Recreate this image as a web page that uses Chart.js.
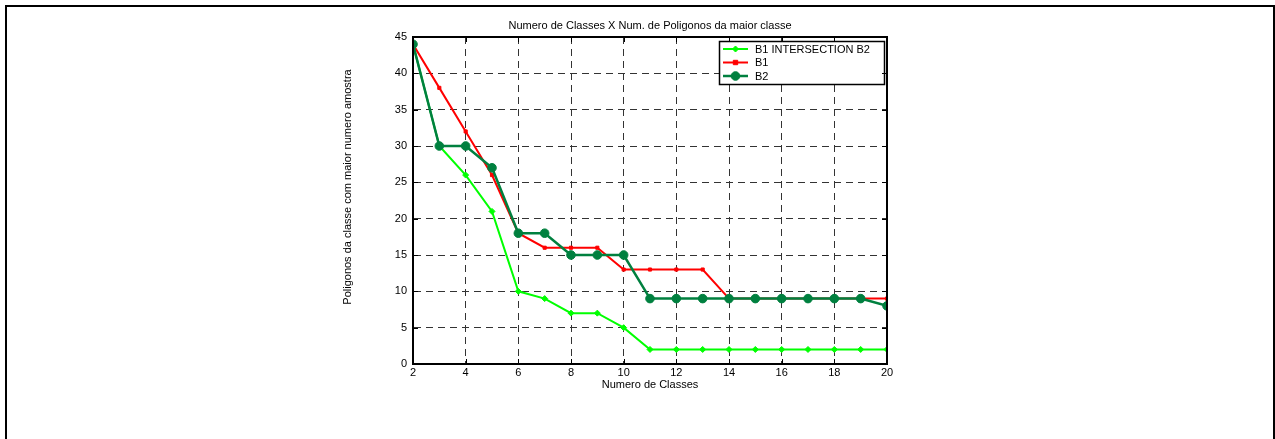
<!DOCTYPE html>
<html><head><meta charset="utf-8">
<script src="https://cdn.jsdelivr.net/npm/chart.js@4/dist/chart.umd.min.js"></script>
<style>
html,body{margin:0;padding:0;background:#fff;overflow:hidden;}
#wrap{position:relative;width:1275px;height:439px;overflow:hidden;}
#frame{position:absolute;left:5px;top:5px;width:1266px;height:480px;border:2px solid #000;pointer-events:none;}
canvas{position:absolute;left:0;top:0;}
</style></head><body>
<div id="wrap"><canvas id="c" width="1275" height="439"></canvas><div id="frame"></div></div>
<script>
const classes = [2,3,4,5,6,7,8,9,10,11,12,13,14,15,16,17,18,19,20];
const b1IntersectionB2 = [44,30,26,21,10,9,7,7,5,2,2,2,2,2,2,2,2,2,2];
const b1 = [44,38,32,26,18,16,16,16,13,13,13,13,9,9,9,9,9,9,9];
const b2 = [44,30,30,27,18,18,15,15,15,9,9,9,9,9,9,9,9,9,8];
const seriesNames = ['B1 INTERSECTION B2','B1','B2'];
const titleText = 'Numero de Classes X Num. de Poligonos da maior classe';
const xTitle = 'Numero de Classes';
const yTitle = 'Poligonos da classe com maior numero amostra';
const xMin = 2, xMax = 20, xStep = 2;
const yMin = 0, yMax = 45, yStep = 5;

const FONT = 'Liberation Sans, Arial, sans-serif';
const toPts = arr => arr.map((v,i)=>({x: classes[i], y: v}));

const frame = {
  id: 'frame',
  afterDraw(chart) {
    const {ctx, chartArea: a, scales} = chart;
    ctx.save();
    ctx.strokeStyle = '#000';
    ctx.lineWidth = 1;
    ctx.beginPath();
    scales.x.ticks.forEach(t => {
      const px = Math.round(scales.x.getPixelForValue(t.value)) + 0.5;
      ctx.moveTo(px, a.bottom); ctx.lineTo(px, a.bottom - 5);
      ctx.moveTo(px, a.top); ctx.lineTo(px, a.top + 5);
    });
    scales.y.ticks.forEach(t => {
      const py = Math.round(scales.y.getPixelForValue(t.value)) + 0.5;
      ctx.moveTo(a.left, py); ctx.lineTo(a.left + 5, py);
      ctx.moveTo(a.right, py); ctx.lineTo(a.right - 5, py);
    });
    ctx.stroke();
    ctx.lineWidth = 2;
    ctx.strokeRect(a.left, a.top, a.right - a.left, a.bottom - a.top);
    // y-axis title
    ctx.translate(348, 187);
    ctx.rotate(-Math.PI / 2);
    ctx.fillStyle = '#000';
    ctx.font = '11px ' + FONT;
    ctx.textAlign = 'center'; ctx.textBaseline = 'middle';
    ctx.fillText(yTitle, 0, 0);
    ctx.restore();
  }
};

function drawMarker(ctx, style, r, x, y, color) {
  ctx.fillStyle = color; ctx.strokeStyle = color; ctx.lineWidth = 1;
  ctx.beginPath();
  if (style === 'circle') { ctx.arc(x, y, r, 0, Math.PI*2); }
  else if (style === 'rectRot') { ctx.moveTo(x, y-r); ctx.lineTo(x+r, y); ctx.lineTo(x, y+r); ctx.lineTo(x-r, y); ctx.closePath(); }
  else { ctx.rect(x-r, y-r, 2*r, 2*r); }
  ctx.fill(); ctx.stroke();
}

const legendBox = {
  id: 'legendBox',
  afterDatasetsDraw(chart) {
    const {ctx} = chart;
    const bx = 719.5, by = 41.5, bw = 165, bh = 43;
    ctx.save();
    ctx.fillStyle = '#fff';
    ctx.fillRect(bx, by, bw, bh);
    ctx.strokeStyle = '#000'; ctx.lineWidth = 1.5;
    ctx.strokeRect(bx, by, bw, bh);
    const rows = [49, 62.5, 76];
    chart.data.datasets.forEach((ds, i) => {
      const y = rows[i];
      ctx.strokeStyle = ds.borderColor; ctx.lineWidth = ds.borderWidth;
      ctx.beginPath(); ctx.moveTo(723, y); ctx.lineTo(748, y); ctx.stroke();
      drawMarker(ctx, ds.pointStyle, ds.pointRadius, 735.5, y, ds.borderColor);
      ctx.fillStyle = '#000';
      ctx.font = '11px ' + FONT;
      ctx.textBaseline = 'middle'; ctx.textAlign = 'left';
      ctx.fillText(ds.label, 755, y + 0.5);
    });
    ctx.restore();
  }
};

new Chart(document.getElementById('c'), {
  type: 'line',
  data: {
    datasets: [
      {label: seriesNames[0], data: toPts(b1IntersectionB2), borderColor: '#00ff00', backgroundColor: '#00ff00',
       borderWidth: 2, pointStyle: 'rectRot', pointRadius: 3, pointBorderWidth: 1, order: 2},
      {label: seriesNames[1], data: toPts(b1), borderColor: '#ff0000', backgroundColor: '#ff0000',
       borderWidth: 2, pointStyle: 'rect', pointRadius: 2.2, pointBorderWidth: 1, order: 1},
      {label: seriesNames[2], data: toPts(b2), borderColor: '#00803f', backgroundColor: '#00803f',
       borderWidth: 2.5, pointStyle: 'circle', pointRadius: 4.3, pointBorderWidth: 1, order: 0}
    ]
  },
  options: {
    responsive: false,
    animation: false,
    devicePixelRatio: 1,
    layout: {padding: {left: 340, right: 388, top: 0, bottom: 47}},
    elements: {line: {tension: 0}},
    plugins: {
      legend: {display: false},
      tooltip: {enabled: false},
      title: {display: true, text: titleText, fullSize: false, color: '#000',
        font: {family: FONT, size: 11, weight: 'normal'}, padding: {top: 19.4, bottom: 4.4}}
    },
    scales: {
      x: {type: 'linear', min: xMin, max: xMax,
        afterFit(s) { s.height = 28; },
        ticks: {stepSize: xStep, color: '#000', padding: 2, maxRotation: 0, font: {family: FONT, size: 11}},
        grid: {color: '#333', lineWidth: 1, drawTicks: false},
        border: {display: true, color: '#000', width: 2, dash: [7,5]},
        title: {display: true, text: xTitle, color: '#000', font: {family: FONT, size: 11}, padding: {top: 0, bottom: 0}}
      },
      y: {type: 'linear', min: yMin, max: yMax,
        afterFit(s) { s.width = 73; },
        ticks: {stepSize: yStep, color: '#000', padding: 6, font: {family: FONT, size: 11}},
        grid: {color: '#333', lineWidth: 1, drawTicks: false},
        border: {display: true, color: '#000', width: 2, dash: [7,5]},
        title: {display: false}
      }
    }
  },
  plugins: [frame, legendBox]
});
</script>
</body></html>
